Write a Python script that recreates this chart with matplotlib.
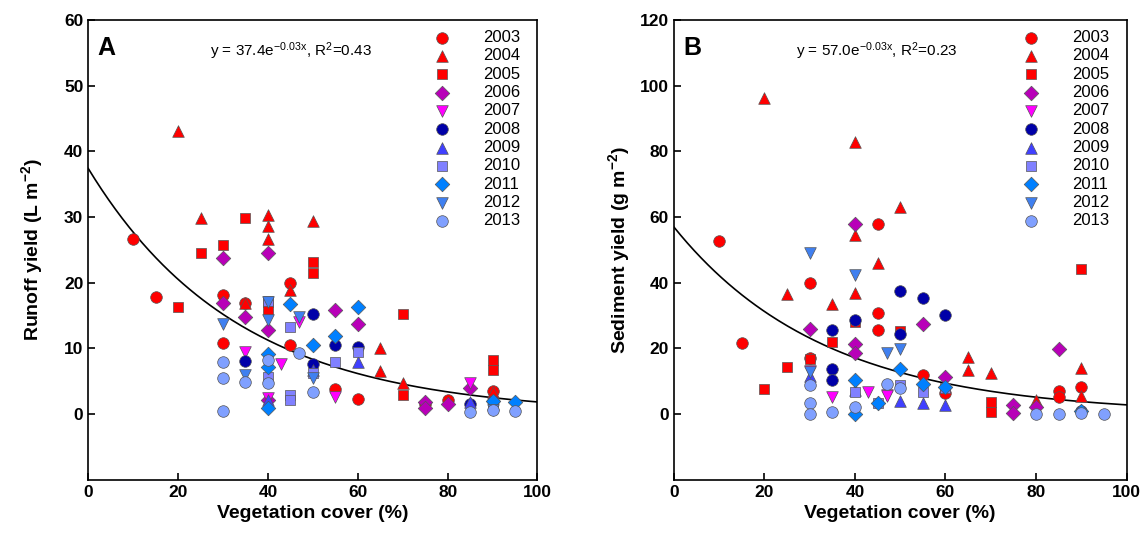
import numpy as np
import matplotlib.pyplot as plt

plt.rcParams['font.family'] = ['Liberation Sans', 'DejaVu Sans']

years = ['2003', '2004', '2005', '2006', '2007', '2008', '2009', '2010', '2011', '2012', '2013']
markers = ['o', '^', 's', 'D', 'v', 'o', '^', 's', 'D', 'v', 'o']
colors = ['#ff0000', '#ff0000', '#ff0000', '#b800b8', '#ff00ff', '#0000a8',
          '#4040ff', '#8080ff', '#0080ff', '#4080f0', '#80a0ff']

# Panel A: runoff yield (L m-2) vs vegetation cover (%)
runoff = {
    '2003': ([10, 15, 30, 30, 35, 45, 45, 55, 60, 80, 90, 75],
             [26.7, 17.9, 18.2, 10.8, 16.9, 19.9, 10.6, 3.9, 2.3, 2.2, 3.5, 1.6]),
    '2004': ([20, 25, 35, 40, 40, 40, 45, 50, 65, 65, 70, 90],
             [43.1, 29.8, 16.9, 30.3, 28.7, 26.6, 18.9, 29.4, 10.1, 6.6, 4.7, 3.3]),
    '2005': ([20, 25, 30, 35, 40, 40, 50, 50, 70, 70, 90, 90],
             [16.3, 24.5, 25.7, 29.8, 17.1, 15.8, 23.2, 21.5, 15.3, 2.9, 8.2, 6.8]),
    '2006': ([30, 40, 30, 35, 40, 40, 55, 60, 75, 75, 80, 85],
             [23.8, 24.5, 16.9, 14.8, 12.8, 2.1, 15.8, 13.7, 1.9, 1.0, 1.5, 4.0]),
    '2007': ([35, 43, 47, 55, 85, 40],
             [9.4, 7.7, 14.0, 2.6, 4.7, 2.4]),
    '2008': ([35, 50, 55, 60, 50, 85, 90],
             [8.1, 15.2, 10.6, 10.2, 7.6, 1.6, 2.0]),
    '2009': ([40, 50, 60, 85, 90],
             [2.1, 6.7, 8.0, 1.8, 1.5]),
    '2010': ([40, 45, 40, 45, 45, 55, 60, 50, 90],
             [17.3, 13.3, 5.7, 2.9, 2.1, 8.0, 9.5, 6.2, 1.2]),
    '2011': ([45, 40, 40, 40, 50, 60, 55, 90, 95],
             [16.7, 9.2, 7.2, 0.9, 10.6, 16.3, 11.9, 2.0, 1.9]),
    '2012': ([30, 35, 40, 47, 40, 50, 90],
             [13.8, 5.9, 14.3, 14.8, 17.0, 5.5, 0.6]),
    '2013': ([30, 30, 30, 35, 40, 40, 47, 50, 85, 90, 95],
             [8.0, 5.5, 0.5, 4.9, 8.2, 4.7, 9.3, 3.4, 0.4, 0.6, 0.5]),
}

# Panel B: sediment yield (g m-2) vs vegetation cover (%)
sediment = {
    '2003': ([10, 15, 30, 30, 45, 45, 45, 55, 60, 85, 85, 90],
             [52.7, 21.7, 40.0, 17.2, 57.9, 30.7, 25.6, 11.9, 6.5, 7.1, 5.3, 8.3]),
    '2004': ([20, 25, 35, 40, 40, 40, 45, 50, 65, 65, 70, 80, 90, 90],
             [96.2, 36.6, 33.4, 83.0, 54.4, 37.0, 45.9, 63.2, 17.3, 13.4, 12.4, 4.3, 14.2, 5.5]),
    '2005': ([20, 25, 30, 35, 40, 50, 70, 70, 90],
             [7.8, 14.4, 16.7, 22.0, 28.0, 25.3, 3.8, 0.7, 44.2]),
    '2006': ([30, 40, 40, 40, 55, 60, 75, 75, 80, 85],
             [25.8, 57.9, 21.5, 18.5, 27.6, 11.4, 2.7, 0.4, 2.2, 19.8]),
    '2007': ([35, 43, 47, 47, 30],
             [5.3, 6.8, 5.8, 5.5, 13.0]),
    '2008': ([35, 35, 35, 40, 50, 50, 55, 60, 90],
             [25.6, 13.7, 10.4, 28.7, 37.5, 24.4, 35.5, 30.2, 1.0]),
    '2009': ([30, 50, 55, 60, 40],
             [11.7, 4.0, 3.3, 2.7, 7.5]),
    '2010': ([40, 45, 55, 60, 50],
             [6.8, 3.3, 6.8, 8.0, 9.0]),
    '2011': ([40, 40, 45, 50, 55, 60, 90],
             [10.4, 0.2, 3.3, 13.7, 9.3, 8.3, 1.0]),
    '2012': ([30, 40, 47, 50, 30],
             [49.0, 42.4, 18.5, 19.8, 12.7]),
    '2013': ([30, 30, 30, 35, 40, 47, 50, 80, 85, 90, 95],
             [8.8, 3.5, 0.2, 0.7, 2.2, 9.1, 8.1, 0.2, 0.2, 0.5, 0.2]),
}

fits = [(37.4, -0.03, '0.43'), (57.0, -0.03, '0.23')]

fig = plt.figure(figsize=(11.46, 5.41), dpi=100)
axA = fig.add_axes([0.077, 0.113, 0.392, 0.85])
axB = fig.add_axes([0.588, 0.113, 0.395, 0.85])

panels = [(axA, runoff, 'A', r'Runoff yield (L m$\mathregular{^{-2}}$)', (-10, 60), np.arange(0, 61, 10), 14),
          (axB, sediment, 'B', r'Sediment yield (g m$\mathregular{^{-2}}$)', (-20, 120), np.arange(0, 121, 20), 6)]

for (ax, data, letter, ylabel, ylim, yticks, lpad), (a, b, r2) in zip(panels, fits):
    for yr, m, c in zip(years, markers, colors):
        xs, ys = data[yr]
        ax.scatter(xs, ys, marker=m, s=70 if m in 'o^v' else 55, c=c,
                   edgecolors='#555555', linewidths=0.5, label=yr, zorder=3)
    xx = np.linspace(0, 100, 200)
    ax.plot(xx, a * np.exp(b * xx), color='black', lw=1.2, zorder=2)
    ax.set_xlim(0, 100)
    ax.set_ylim(*ylim)
    ax.set_xticks(np.arange(0, 101, 20))
    ax.set_yticks(yticks)
    ax.tick_params(direction='in', length=5, width=1.2, labelsize=12.5)
    for lab in ax.get_xticklabels() + ax.get_yticklabels():
        lab.set_fontweight('bold')
    for sp in ax.spines.values():
        sp.set_linewidth(1.2)
    ax.set_xlabel('Vegetation cover (%)', fontsize=14, fontweight='bold')
    ax.set_ylabel(ylabel, fontsize=14, fontweight='bold', labelpad=lpad)
    ax.text(0.02, 0.965, letter, transform=ax.transAxes, fontsize=18,
            fontweight='bold', va='top', ha='left')
    ax.text(0.27, 0.933, r'y = %.1fe$\mathregular{^{%.2fx}}$, R$\mathregular{^2}$=%s' % (a, b, r2),
            transform=ax.transAxes, fontsize=11, va='center', ha='left')
    ax.legend(loc='upper right', frameon=False, fontsize=12, handletextpad=1.5,
              labelspacing=0.2, borderaxespad=0.2, bbox_to_anchor=(0.985, 1.0))

fig.savefig('out.png', dpi=100)
